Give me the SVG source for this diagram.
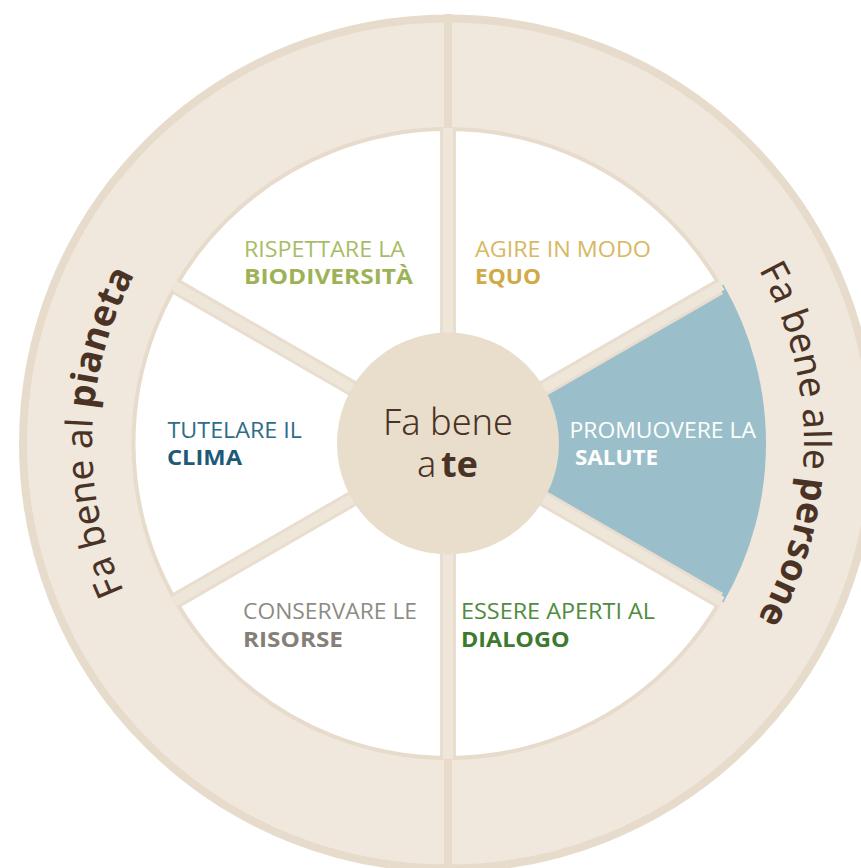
<svg xmlns="http://www.w3.org/2000/svg" width="861" height="868" viewBox="0 0 861 868">
<style>
.lbl{font-family:"Open Sans","Noto Sans","Liberation Sans",sans-serif;font-size:21px;font-weight:400}
.b{font-weight:700}
.ring{font-family:"Noto Sans","Open Sans","Liberation Sans",sans-serif;font-size:37px;fill:#4a3325;font-weight:400}
.rb{font-weight:700}
.ctr{font-family:"Noto Sans","Open Sans","Liberation Sans",sans-serif;font-size:36px;fill:#4a3325}
.spE{stroke:#e8ddcf;stroke-width:16;fill:none}
.spI{stroke:#efe6da;stroke-width:10;fill:none}
</style>
<defs>
<path id="arcL" d="M 196.3 695.2 A 356 356 0 0 1 196.3 191.8"/>
<path id="arcR" d="M 699.7 191.8 A 356 356 0 0 1 699.7 695.2"/>
</defs>
<rect width="861" height="868" fill="#ffffff"/>
<g id="ring">
<circle cx="448" cy="443.5" r="425" fill="#f0e7dd" stroke="#e7dccc" stroke-width="8"/>
<line x1="448" y1="14" x2="448" y2="873" stroke="#e7dccc" stroke-width="8"/>
<circle cx="448" cy="443.5" r="314.5" fill="#ffffff" stroke="#e7dccc" stroke-width="4"/>
</g>
<g id="sector-salute">
<path d="M 448 443.5 L 723.4 284.5 A 318 318 0 0 1 723.4 602.5 Z" fill="#9bbfca"/>
</g>
<g id="connectors">
<line class="spE" x1="448" y1="131" x2="448" y2="756"/>
<line class="spE" x1="176.9" y1="287" x2="719.1" y2="600"/>
<line class="spE" x1="176.9" y1="600" x2="719.1" y2="287"/>
<line class="spI" x1="448" y1="128" x2="448" y2="759"/>
<line class="spI" x1="174" y1="285.5" x2="722" y2="601.5"/>
<line class="spI" x1="174" y1="601.5" x2="722" y2="285.5"/>
</g>
<g id="center">
<circle cx="448" cy="443.5" r="111" fill="#e9ddcc"/>
<text class="ctr" x="448" y="435" text-anchor="middle" font-weight="300" textLength="130" lengthAdjust="spacingAndGlyphs">Fa bene</text>
<text class="ctr" x="417" y="477" font-weight="300">a</text>
<text class="ctr" x="441" y="477" font-weight="700">te</text>
</g>
<g id="label-biodiversita">
<text class="lbl" x="244" y="257" fill="#a8bc68" textLength="161" lengthAdjust="spacingAndGlyphs">RISPETTARE LA</text>
<text class="lbl b" x="244" y="284" fill="#9db257" textLength="169" lengthAdjust="spacingAndGlyphs">BIODIVERSITÀ</text>
</g>
<g id="label-equo">
<text class="lbl" x="475" y="257" fill="#d8b862" textLength="176" lengthAdjust="spacingAndGlyphs">AGIRE IN MODO</text>
<text class="lbl b" x="475" y="284" fill="#d1aa48" textLength="66" lengthAdjust="spacingAndGlyphs">EQUO</text>
</g>
<g id="label-clima">
<text class="lbl" x="167.5" y="438" fill="#2e6d88" textLength="134.5" lengthAdjust="spacingAndGlyphs">TUTELARE IL</text>
<text class="lbl b" x="167" y="465" fill="#1d5a78" textLength="75" lengthAdjust="spacingAndGlyphs">CLIMA</text>
</g>
<g id="label-salute">
<text class="lbl" x="569.5" y="438" fill="#ffffff" textLength="186.5" lengthAdjust="spacingAndGlyphs">PROMUOVERE LA</text>
<text class="lbl b" x="575" y="465" fill="#ffffff" textLength="83" lengthAdjust="spacingAndGlyphs">SALUTE</text>
</g>
<g id="label-risorse">
<text class="lbl" x="243" y="619" fill="#8e8b84" textLength="174" lengthAdjust="spacingAndGlyphs">CONSERVARE LE</text>
<text class="lbl b" x="243" y="647" fill="#847f77" textLength="100" lengthAdjust="spacingAndGlyphs">RISORSE</text>
</g>
<g id="label-dialogo">
<text class="lbl" x="461" y="619" fill="#4f8c3e" textLength="194" lengthAdjust="spacingAndGlyphs">ESSERE APERTI AL</text>
<text class="lbl b" x="461" y="647" fill="#3d7a2f" textLength="108.5" lengthAdjust="spacingAndGlyphs">DIALOGO</text>
</g>
<g id="ring-pianeta">
<text class="ring" font-size="38"><textPath href="#arcL" startOffset="127">Fa bene al</textPath></text>
<text class="ring rb"><textPath href="#arcL" startOffset="314">pianeta</textPath></text>
</g>
<g id="ring-persone">
<text class="ring"><textPath href="#arcR" startOffset="98">Fa bene alle</textPath></text>
<text class="ring rb" font-size="36"><textPath href="#arcR" startOffset="313">persone</textPath></text>
</g>
</svg>
